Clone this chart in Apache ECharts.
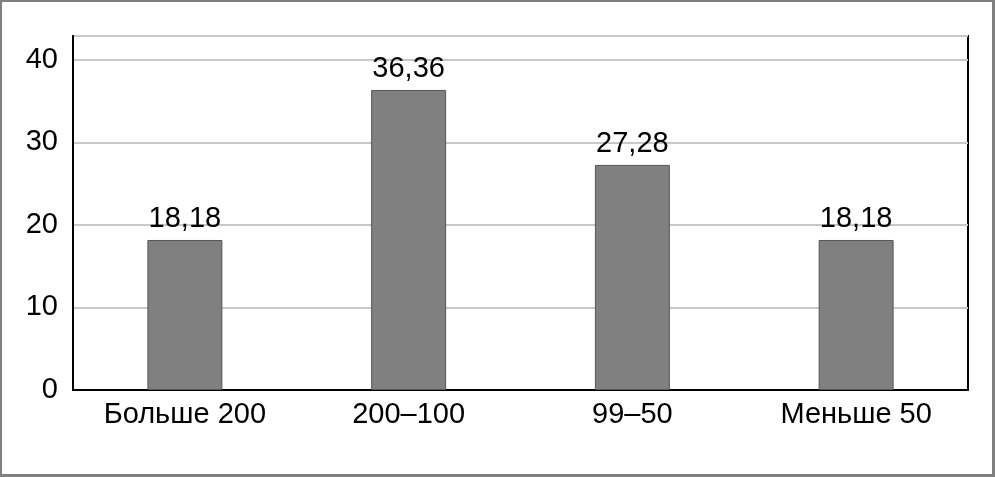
<!DOCTYPE html>
<html>
<head>
<meta charset="utf-8">
<script src="https://cdn.jsdelivr.net/npm/echarts@6/dist/echarts.min.js"></script>
<style>
html,body{margin:0;padding:0;background:#fff;}
#frame{width:995px;height:477px;box-sizing:border-box;border:3px solid #808080;border-top-width:2px;border-left-width:2px;position:relative;}
#chart{position:absolute;left:-2px;top:-2px;width:995px;height:477px;}
</style>
</head>
<body>
<div id="frame"><div id="chart"></div></div>
<script>
const categories = ['Больше 200', '200–100', '99–50', 'Меньше 50'];
const values = [18.18, 36.36, 27.28, 18.18];
const yTicks = [0, 10, 20, 30, 40];

const font = '"Liberation Sans", Arial, sans-serif';
const chart = echarts.init(document.getElementById('chart'), null, {renderer: 'canvas'});
chart.setOption({
  animation: false,
  grid: {left: 73, right: 27, top: 36, bottom: 87, show: true, borderColor: '#000', borderWidth: 2, backgroundColor: 'transparent'},
  xAxis: {
    type: 'category',
    data: categories,
    axisLine: {show: true, lineStyle: {color: '#000', width: 2}},
    axisTick: {show: false},
    axisLabel: {color: '#000', fontSize: 29, fontFamily: font, margin: 10}
  },
  yAxis: {
    type: 'value',
    min: 0, max: 42.9, interval: 10,
    axisLine: {show: true, lineStyle: {color: '#000', width: 2}},
    axisTick: {show: false},
    splitLine: {lineStyle: {color: '#c8c8c8', width: 2}},
    axisLabel: {color: '#000', fontSize: 29, fontFamily: font, margin: 15, showMaxLabel: false,
      formatter: v => yTicks.includes(v) ? String(v) : ''}
  },
  series: [{
    type: 'bar',
    data: values,
    barWidth: '33.5%',
    itemStyle: {color: '#808080', borderColor: '#555', borderWidth: 1},
    label: {show: true, position: 'top', distance: 6, color: '#000', fontSize: 29, fontFamily: font,
      formatter: p => p.value.toFixed(2).replace('.', ',')}
  }]
});
</script>
</body>
</html>
